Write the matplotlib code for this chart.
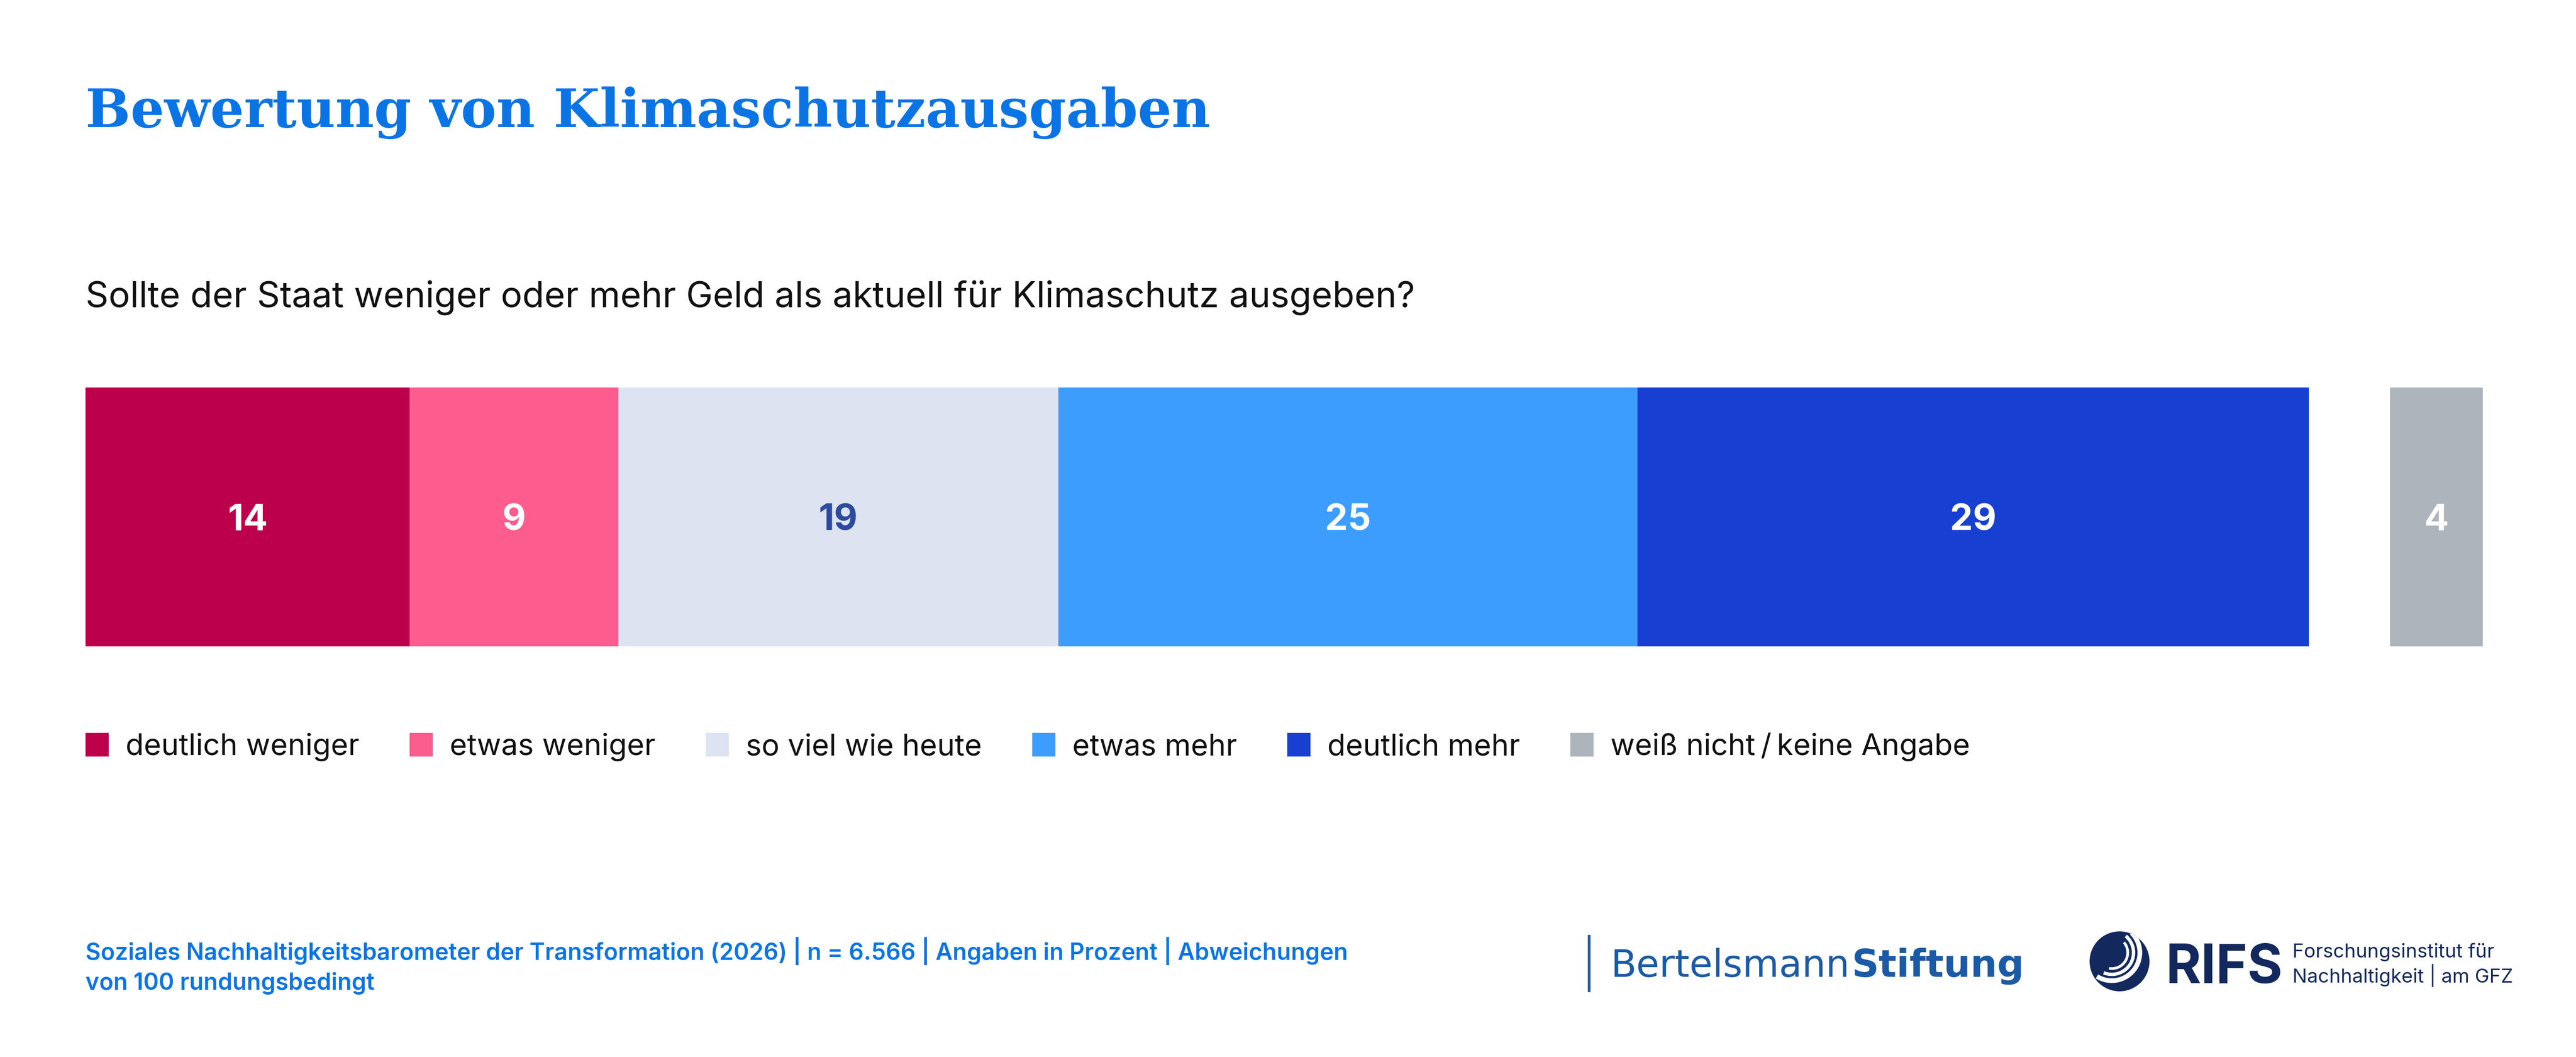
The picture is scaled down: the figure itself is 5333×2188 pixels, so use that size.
import numpy as np
from matplotlib import pyplot as plt
from matplotlib import patches

W, H = 5333, 2188

# data
categories = ["deutlich weniger", "etwas weniger", "so viel wie heute",
              "etwas mehr", "deutlich mehr"]
values = [14, 9, 19, 25, 29]
dk_label = "weiß nicht\u2009/\u2009keine Angabe"
dk_value = 4

colors = ["#bc004b", "#fd5c8e", "#dde3f1", "#3d9dff", "#1740d2"]
dk_color = "#adb4bc"
label_colors = ["white", "white", "#2c4a9e", "white", "white"]

title = "Bewertung von Klimaschutzausgaben"
question = "Sollte der Staat weniger oder mehr Geld als aktuell für Klimaschutz ausgeben?"
source = ["Soziales Nachhaltigkeitsbarometer der Transformation (2026) | n = 6.566 | Angaben in Prozent | Abweichungen",
          "von 100 rundungsbedingt"]

blue = "#0b74e5"
sans = ["Inter", "DejaVu Sans"]

fig = plt.figure(figsize=(W / 100, H / 100), dpi=100)
fig.patch.set_facecolor("white")

# overlay axes in pixel coords (y down)
ov = fig.add_axes([0, 0, 1, 1])
ov.set_xlim(0, W)
ov.set_ylim(H, 0)
ov.axis("off")
r = fig.canvas.get_renderer()

# bar axes
gap = 3.5
xmax = sum(values) + gap + dk_value
left_px, right_px = 177, 5140
top_px, bot_px = 802, 1338
ax = fig.add_axes([left_px / W, 1 - bot_px / H, (right_px - left_px) / W, (bot_px - top_px) / H])
ax.set_xlim(0, xmax)
ax.set_ylim(0, 1)
ax.axis("off")

num_y = (bot_px - 1098) / (bot_px - top_px)
lefts = np.concatenate([[0], np.cumsum(values)[:-1]])
ax.barh(0.5, values, left=lefts, height=1, color=colors, linewidth=0)
for l, v, c in zip(lefts, values, label_colors):
    ax.text(l + v / 2, num_y, str(v), ha="center", va="baseline", color=c,
            fontsize=54, fontweight="bold", family=sans)
dk_left = sum(values) + gap
ax.barh(0.5, dk_value, left=dk_left, height=1, color=dk_color, linewidth=0)
ax.text(dk_left + dk_value / 2, num_y, str(dk_value), ha="center", va="baseline",
        color="white", fontsize=54, fontweight="bold", family=sans)

# title
t = ov.text(177, 263, title, color=blue, fontsize=89, fontweight="bold",
            family=["DejaVu Serif"], va="baseline", ha="left")
w = t.get_window_extent(r).width
t.set_fontsize(89 * min(1.0, 2331 / w))

ov.text(177, 635, question, color="#111111", fontsize=53.5, family=sans,
        va="baseline", ha="left")

# legend
x = 177
for lab, c in zip(categories + [dk_label], colors + [dk_color]):
    ov.add_patch(patches.Rectangle((x, 1517), 48, 49, color=c, lw=0))
    tt = ov.text(x + 48 + 35, 1563, lab, color="#111111", fontsize=44.4,
                 family=sans, va="baseline", ha="left")
    x = x + 48 + 35 + tt.get_window_extent(r).width + 104

# footer
ov.text(177, 1987, source[0], color=blue, fontsize=34.8, fontweight="semibold",
        family=sans, va="baseline", ha="left")
ov.text(177, 2049, source[1], color=blue, fontsize=34.8, fontweight="semibold",
        family=sans, va="baseline", ha="left")

# Bertelsmann Stiftung
bs = "#1b5aa6"
ov.plot([3290, 3290], [1938, 2051], color=bs, lw=4)
b1 = ov.text(3334, 2022, "Bertelsmann", color=bs, fontsize=56, family=["DejaVu Sans"],
             va="baseline", ha="left")
bw = b1.get_window_extent(r).width
ov.text(3334 + bw + 4, 2022, "Stiftung", color=bs, fontsize=56, fontweight="bold",
        family=["DejaVu Sans"], va="baseline", ha="left")

# RIFS
navy = "#13295e"
circ = patches.Circle((4388, 1990), 62, color=navy, lw=0)
ov.add_patch(circ)
for rr, t1, t2, lw in [(58, -45, 122, 7), (45, -50, 112, 5), (33, -40, 100, 4)]:
    a = patches.Arc((4372, 1972), rr * 2, rr * 2, theta1=t1, theta2=t2,
                    color="white", lw=lw)
    ov.add_patch(a)
    a.set_clip_path(circ)
ov.text(4484, 2035, "RIFS", color=navy, fontsize=80, fontweight="bold", family=sans,
        va="baseline", ha="left")
ov.text(4746, 1982, "Forschungsinstitut für", color=navy, fontsize=29, family=sans,
        va="baseline", ha="left")
ov.text(4746, 2034, "Nachhaltigkeit | am GFZ", color=navy, fontsize=29, family=sans,
        va="baseline", ha="left")

fig.savefig("out.png", dpi=100)
